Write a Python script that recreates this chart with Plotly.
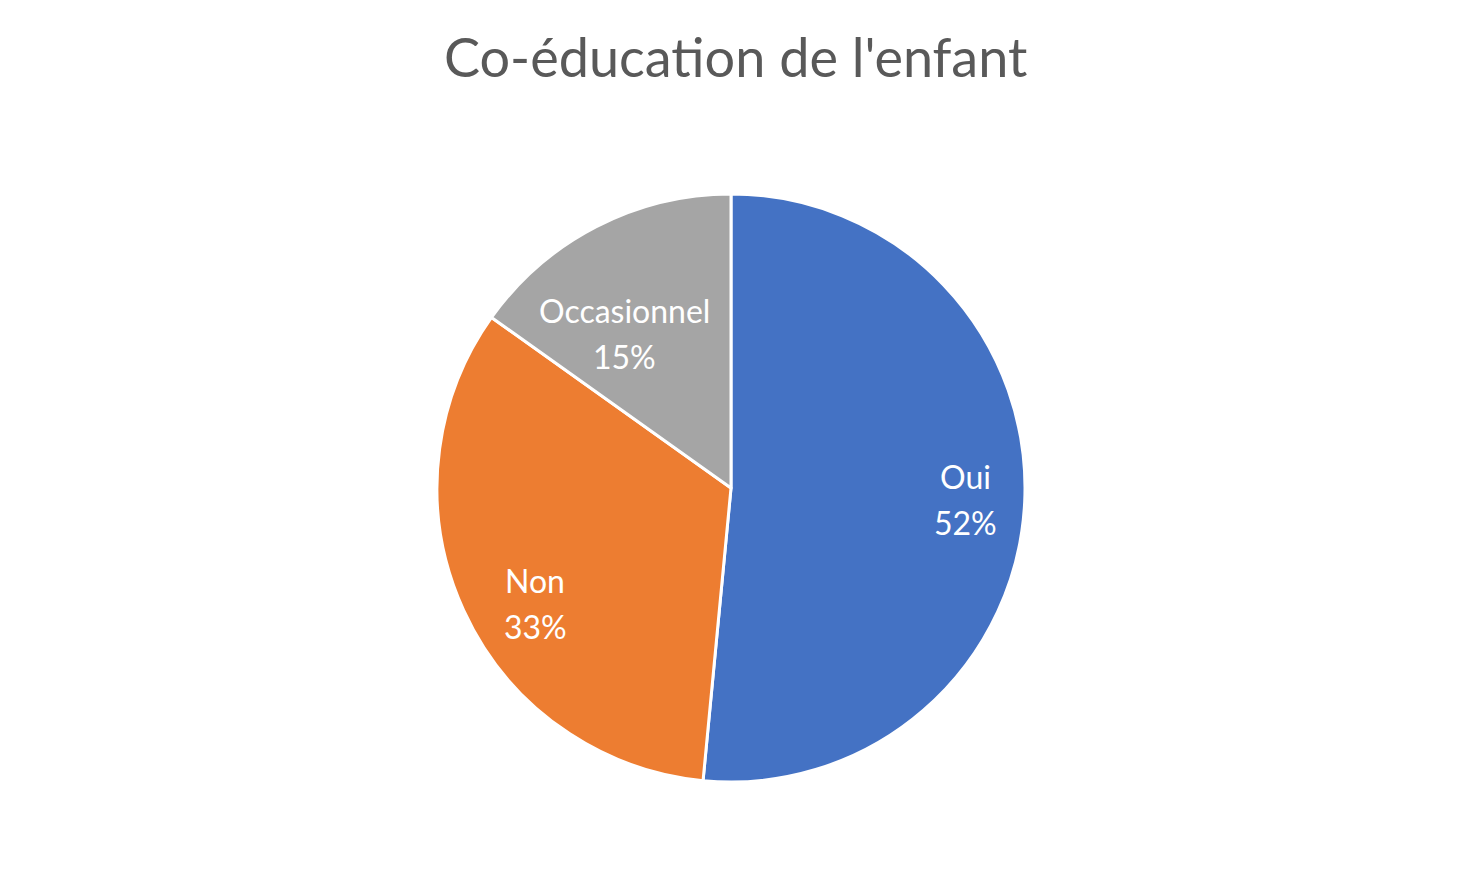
import math
import plotly.graph_objects as go

# --------- DATA ----------
categories = ["Oui", "Non", "Occasionnel"]
counts = [34, 22, 10]
colors = ["#4472C4", "#ED7D31", "#A5A5A5"]

# --------- LAYOUT SETTINGS ----------
W, H = 1470, 878
M = dict(l=80, r=104, t=186, b=104)
label_radius = [0.80, 0.78, 0.64]          # fraction of pie radius for data labels
label_nudge = [(0, 0), (13, -20), (-20, -13)]  # small px nudges, Excel-like fit
LABEL_FONT = dict(family="Lato", size=32, color="white")

fig = go.Figure(go.Pie(
    labels=categories,
    values=counts,
    sort=False,
    direction="clockwise",
    rotation=0,
    marker=dict(colors=colors, line=dict(color="white", width=3)),
    textinfo="none",
    hoverinfo="label+percent",
    showlegend=False,
))

# data labels placed on each slice's middle angle
area_w = W - M["l"] - M["r"]
area_h = H - M["t"] - M["b"]
radius = min(area_w, area_h) / 2
total = sum(counts)
cum = 0
for name, c, f, (dx, dy) in zip(categories, counts, label_radius, label_nudge):
    mid = (cum + c / 2) / total * 2 * math.pi
    cum += c
    x = 0.5 + f * radius * math.sin(mid) / area_w
    y = 0.5 + f * radius * math.cos(mid) / area_h
    pct = f"{round(100 * c / total)}%"
    for txt, shift in ((name, 23), (pct, -23)):
        fig.add_annotation(
            x=x, y=y, xref="paper", yref="paper",
            text=txt, showarrow=False,
            xshift=dx, yshift=shift + dy,
            xanchor="center", yanchor="middle",
            font=LABEL_FONT,
        )

fig.update_layout(
    title=dict(
        text="Co-éducation de l'enfant",
        x=0.495, xanchor="center",
        y=0.943, yanchor="middle",
        font=dict(family="Lato", size=54, color="#595959"),
    ),
    width=W,
    height=H,
    margin=M,
    paper_bgcolor="white",
    plot_bgcolor="white",
)

fig.write_html("out.html")
